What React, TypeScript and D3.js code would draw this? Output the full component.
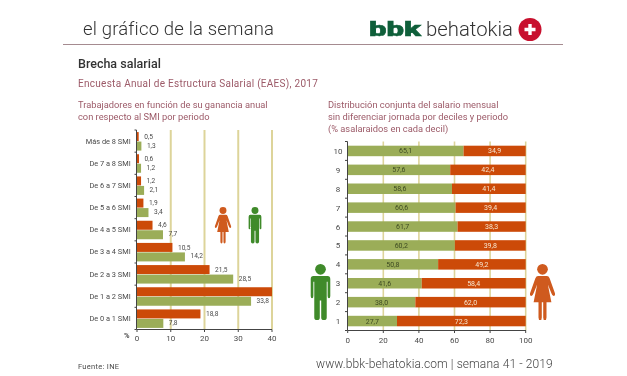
import React from "react";
import * as d3 from "d3";

const smiCategories = ["Más de 8 SMI", "De 7 a 8 SMI", "De 6 a 7 SMI", "De 5 a 6 SMI", "De 4 a 5 SMI", "De 3 a 4 SMI", "De 2 a 3 SMI", "De 1 a 2 SMI", "De 0 a 1 SMI"];
const smiWomen = [0.5, 0.6, 1.2, 1.9, 4.6, 10.5, 21.5, 40, 18.8];
const smiMen = [1.3, 1.2, 2.1, 3.4, 7.7, 14.2, 28.5, 33.8, 7.8];
const smiWomenLabels = ["0,5", "0,6", "1,2", "1,9", "4,6", "10,5", "21,5", "", "18,8"];
const smiMenLabels = ["1,3", "1,2", "2,1", "3,4", "7,7", "14,2", "28,5", "33,8", "7,8"];
const smiTicks = [0, 10, 20, 30, 40];

const deciles = ["10", "9", "8", "7", "6", "5", "4", "3", "2", "1"];
const decileMen = [65.1, 57.6, 58.6, 60.6, 61.7, 60.2, 50.8, 41.6, 38.0, 27.7];
const decileWomen = [34.9, 42.4, 41.4, 39.4, 38.3, 39.8, 49.2, 58.4, 62.0, 72.3];
const decileTicks = [0, 20, 40, 60, 80, 100];

const GREEN = "#9bad58";
const RED = "#cc4a08";
const GRID = "#ddd49a";
const ROSE = "#9c5a68";
const GREY = "#4a4a4a";
const FONT = "Roboto, sans-serif";

const fmt = (v: number) => v.toFixed(1).replace(".", ",");

function Man({ x, y, s, color }: { x: number; y: number; s: number; color: string }) {
  return (
    <g transform={`translate(${x},${y}) scale(${s})`} fill={color}>
      <circle cx={0} cy={6} r={6} />
      <path d="M-8,13.5 L8,13.5 Q11,13.5 11,17 L11,36 Q11,38.5 9.5,38.5 Q8,38.5 8,36 L8,20 L7,20 L7,60 Q7,63 3.8,63 Q0.8,63 0.8,60 L0.8,41 L-0.8,41 L-0.8,60 Q-0.8,63 -3.8,63 Q-7,63 -7,60 L-7,20 L-8,20 L-8,36 Q-8,38.5 -9.5,38.5 Q-11,38.5 -11,36 L-11,17 Q-11,13.5 -8,13.5 Z" />
    </g>
  );
}

function Woman({ x, y, s, color }: { x: number; y: number; s: number; color: string }) {
  return (
    <g transform={`translate(${x},${y}) scale(${s})`} fill={color}>
      <circle cx={0} cy={6} r={6} />
      <path d="M-5,13.5 L5,13.5 Q7,13.5 8,16 L14,33 Q14.5,36 12.5,36 Q11,36 10,33 L6,23 L10,43 L4.5,43 L4.5,60 Q4.5,63 2.6,63 Q0.8,63 0.8,60 L0.8,43 L-0.8,43 L-0.8,60 Q-0.8,63 -2.6,63 Q-4.5,63 -4.5,60 L-4.5,43 L-10,43 L-6,23 L-10,33 Q-11,36 -12.5,36 Q-14.5,36 -14,33 L-8,16 Q-7,13.5 -5,13.5 Z" />
    </g>
  );
}

export default function App() {
  const xL = d3.scaleLinear().domain([0, 40]).range([137, 272]);
  const yL = d3.scaleBand().domain(smiCategories).range([130, 329.5]);
  const xR = d3.scaleLinear().domain([0, 100]).range([347.7, 525.7]);
  const yR = d3.scaleBand().domain(deciles).range([141.5, 330.5]);
  const barL = 9;
  const barR = 10.5;

  return (
    <svg width={627} height={376} style={{ position: "absolute", left: 0, top: 0, background: "#fff", filter: "blur(0.45px)" }} fontFamily={FONT}>
      <text x={83} y={35} fontSize={18.5} fontWeight={300} fill="#333" letterSpacing={0.17}>el gráfico de la semana</text>
      <text x={369} y={36} fontSize={20} fontWeight={900} fill="#0f5f3a" stroke="#0f5f3a" strokeWidth={0.5} textLength={52} lengthAdjust="spacingAndGlyphs">bbk</text>
      <text x={426} y={36} fontSize={20} fontWeight={300} fill="#333" textLength={87} lengthAdjust="spacingAndGlyphs">behatokia</text>
      <circle cx={530} cy={29.5} r={11.5} fill="#c8102e" />
      <path d="M530,24 V35 M524.5,29.5 H535.5" stroke="#fff" strokeWidth={3.4} />
      <line x1={63} x2={563} y1={44.5} y2={44.5} stroke="#a58b90" strokeWidth={1.2} />

      <text x={78} y={68} fontSize={12.5} fontWeight={500} fill="#333">Brecha salarial</text>
      <text x={78} y={87} fontSize={10} fill={ROSE} letterSpacing={0.28}>Encuesta Anual de Estructura Salarial (EAES), 2017</text>
      <g fontSize={9.3} fill={ROSE}>
        <text x={78} y={107.5}>Trabajadores en función de su ganancia anual</text>
        <text x={78} y={119.5}>con respecto al SMI por periodo</text>
        <text x={328} y={107.5}>Distribución conjunta del salario mensual</text>
        <text x={328} y={119.5}>sin diferenciar jornada por deciles y periodo</text>
        <text x={328} y={131.5}>(% asalaraidos en cada decil)</text>
      </g>

      {/* Left chart */}
      {smiTicks.slice(1).map((t) => (
        <line key={t} x1={xL(t)} x2={xL(t)} y1={130} y2={329.5} stroke={GRID} strokeWidth={2} />
      ))}
      {smiCategories.map((c, i) => {
        const cy = yL(c)! + yL.bandwidth() / 2;
        return (
          <g key={c}>
            <rect x={xL(0)} y={cy - barL} width={xL(smiWomen[i]) - xL(0)} height={barL} fill={RED} />
            <rect x={xL(0)} y={cy + 0.5} width={xL(smiMen[i]) - xL(0)} height={barL} fill={GREEN} />
            <text x={130.7} y={cy + 2.5} textAnchor="end" fontSize={7.4} fill={GREY}>{c}</text>
            {smiWomenLabels[i] && (
              <text x={xL(smiWomen[i]) + 5.5} y={cy - 2.3} fontSize={6.6} fill={GREY}>{smiWomenLabels[i]}</text>
            )}
            <text x={xL(smiMen[i]) + 5.5} y={cy + 6.5} fontSize={6.6} fill={GREY}>{smiMenLabels[i]}</text>
          </g>
        );
      })}
      <line x1={136.5} x2={136.5} y1={130} y2={329.5} stroke="#444" />
      <line x1={136.5} x2={272} y1={329.5} y2={329.5} stroke="#444" />
      {d3.range(10).map((i) => (
        <line key={i} x1={134.5} x2={136.5} y1={130 + (i * 199.5) / 9} y2={130 + (i * 199.5) / 9} stroke="#444" />
      ))}
      {smiTicks.map((t) => (
        <g key={t}>
          <line x1={xL(t)} x2={xL(t)} y1={329.5} y2={332} stroke="#444" />
          <text x={xL(t)} y={341} textAnchor="middle" fontSize={8} fill={GREY}>{t}</text>
        </g>
      ))}
      <text x={124} y={338} fontSize={7.5} fontWeight={700} fill={GREY}>%</text>
      <Woman x={223} y={207} s={0.58} color="#cf5a1e" />
      <Man x={255} y={207} s={0.58} color="#3f8a2a" />

      {/* Right chart */}
      {decileTicks.slice(1).map((t) => (
        <line key={t} x1={xR(t)} x2={xR(t)} y1={141.5} y2={330.5} stroke={GRID} strokeWidth={1.6} />
      ))}
      {deciles.map((d, i) => {
        const cy = yR(d)! + yR.bandwidth() / 2;
        return (
          <g key={d}>
            <rect x={xR(0)} y={cy - barR / 2} width={xR(decileMen[i]) - xR(0)} height={barR} fill={GREEN} />
            <rect x={xR(decileMen[i])} y={cy - barR / 2} width={xR(100) - xR(decileMen[i])} height={barR} fill={RED} />
            <text x={(xR(0) + xR(decileMen[i])) / 2} y={cy + 2.5} textAnchor="middle" fontSize={7} fill="#3d4a22">{fmt(decileMen[i])}</text>
            <text x={(xR(decileMen[i]) + xR(100)) / 2} y={cy + 2.5} textAnchor="middle" fontSize={7} fill="#f6e6d0">{fmt(decileWomen[i])}</text>
            <text x={338} y={cy + 3} textAnchor="middle" fontSize={8} fill={GREY}>{d}</text>
          </g>
        );
      })}
      <line x1={347.5} x2={347.5} y1={141.5} y2={330.5} stroke="#444" />
      <line x1={347.5} x2={526} y1={330.5} y2={330.5} stroke="#444" />
      {d3.range(11).map((i) => (
        <line key={i} x1={345} x2={347.5} y1={141.5 + i * 18.9} y2={141.5 + i * 18.9} stroke="#444" />
      ))}
      {decileTicks.map((t) => (
        <g key={t}>
          <line x1={xR(t)} x2={xR(t)} y1={330.5} y2={333} stroke="#444" />
          <text x={xR(t)} y={343} textAnchor="middle" fontSize={8} fill={GREY}>{t}</text>
        </g>
      ))}
      <Man x={320.5} y={264} s={0.89} color="#3f8a2a" />
      <Woman x={542.5} y={264} s={0.89} color="#cf5a1e" />

      <text x={78} y={369} fontSize={7.5} fill={GREY} letterSpacing={0.3}>Fuente:  INE</text>
      <text x={316} y={368} fontSize={12} fontWeight={300} fill="#444" letterSpacing={0.1}>www.bbk-behatokia.com | semana 41 - 2019</text>
    </svg>
  );
}
